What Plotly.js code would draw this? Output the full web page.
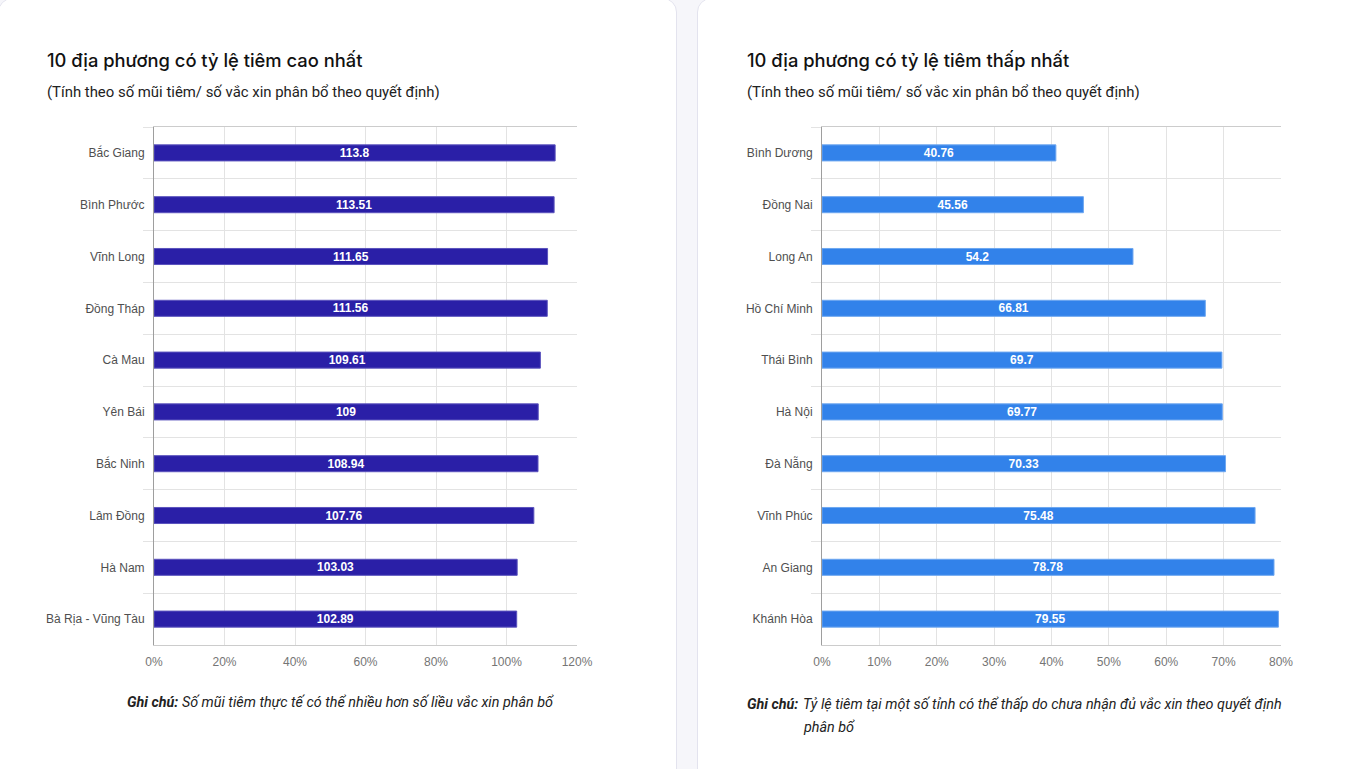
<!DOCTYPE html>
<html>
<head>
<meta charset="utf-8">
<script src="https://cdn.plot.ly/plotly-3.0.1.min.js"></script>
<style>
  html, body { margin: 0; padding: 0; }
  body { width: 1354px; height: 769px; background: #f6f6fa; position: relative; overflow: hidden; }
  .card { position: absolute; top: -2px; height: 800px; background: #ffffff; border: 1px solid #e3e3ee; border-radius: 14px; box-sizing: border-box; }
  #card1 { left: -2px; width: 679px; }
  #card2 { left: 697px; width: 680px; }
  #chart { position: absolute; left: 0; top: 0; width: 1354px; height: 769px; }
</style>
</head>
<body>
<div class="card" id="card1"></div>
<div class="card" id="card2"></div>
<div id="chart"></div>
<script>
const leftTitle = "10 địa phương có tỷ lệ tiêm cao nhất";
const rightTitle = "10 địa phương có tỷ lệ tiêm thấp nhất";
const subtitle = "(Tính theo số mũi tiêm/ số vắc xin phân bổ theo quyết định)";
const leftNoteLabel = "Ghi chú:";
const leftNote = "Số mũi tiêm thực tế có thể nhiều hơn số liều vắc xin phân bổ";
const rightNoteLabel = "Ghi chú:";
const rightNoteLine1 = "Tỷ lệ tiêm tại một số tỉnh có thể thấp do chưa nhận đủ vắc xin theo quyết định";
const rightNoteLine2 = "phân bổ";

const leftCategories = ["Bắc Giang", "Bình Phước", "Vĩnh Long", "Đồng Tháp", "Cà Mau", "Yên Bái", "Bắc Ninh", "Lâm Đồng", "Hà Nam", "Bà Rịa - Vũng Tàu"];
const leftValues = [113.8, 113.51, 111.65, 111.56, 109.61, 109, 108.94, 107.76, 103.03, 102.89];
const leftTickVals = [0, 20, 40, 60, 80, 100, 120];
const leftTickText = ["0%", "20%", "40%", "60%", "80%", "100%", "120%"];

const rightCategories = ["Bình Dương", "Đồng Nai", "Long An", "Hồ Chí Minh", "Thái Bình", "Hà Nội", "Đà Nẵng", "Vĩnh Phúc", "An Giang", "Khánh Hòa"];
const rightValues = [40.76, 45.56, 54.2, 66.81, 69.7, 69.77, 70.33, 75.48, 78.78, 79.55];
const rightTickVals = [0, 10, 20, 30, 40, 50, 60, 70, 80];
const rightTickText = ["0%", "10%", "20%", "30%", "40%", "50%", "60%", "70%", "80%"];

const W = 1354, H = 769;
const px = v => v / W;
const py = v => 1 - v / H;

const barFont = { family: "Arial, 'Liberation Sans', sans-serif", size: 12, color: "#ffffff", weight: "bold" };

const traces = [
  {
    type: "bar", orientation: "h",
    x: leftValues, y: leftCategories,
    xaxis: "x", yaxis: "y",
    width: 0.31,
    marker: { color: "#2a1fa7", line: { color: "#5b53bd", width: 1 } },
    text: leftValues.map(String),
    textposition: "inside", insidetextanchor: "middle", constraintext: "none",
    textfont: barFont,
    hoverinfo: "none"
  },
  {
    type: "bar", orientation: "h",
    x: rightValues, y: rightCategories,
    xaxis: "x2", yaxis: "y2",
    width: 0.31,
    marker: { color: "#3282ea", line: { color: "#6ea7f0", width: 1 } },
    text: rightValues.map(String),
    textposition: "inside", insidetextanchor: "middle", constraintext: "none",
    textfont: barFont,
    hoverinfo: "none"
  }
];

const tickFontX = { family: "Arial, 'Liberation Sans', sans-serif", size: 12, color: "#757575" };
const tickFontY = { family: "Arial, 'Liberation Sans', sans-serif", size: 12, color: "#4f4f4f" };

function xAxis(domain, range, vals, text, anchor) {
  return {
    domain: domain, range: range, anchor: anchor,
    tickmode: "array", tickvals: vals, ticktext: text,
    showgrid: true, gridcolor: "#e3e3e3", gridwidth: 1,
    zeroline: false,
    showline: true, linecolor: "#cccccc", linewidth: 1, mirror: true,
    ticks: "", ticklabelstandoff: 6, tickfont: tickFontX, fixedrange: true
  };
}
function yAxis(domain, cats, anchor) {
  return {
    domain: domain, anchor: anchor,
    type: "category", categoryorder: "array", categoryarray: cats,
    autorange: "reversed",
    tickson: "boundaries", ticks: "outside", ticklen: 10, tickcolor: "#e3e3e3", tickwidth: 1,
    ticklabelstandoff: 6,
    showgrid: true, gridcolor: "#e3e3e3", gridwidth: 1,
    showline: true, linecolor: "#9e9e9e", linewidth: 1,
    zeroline: false,
    tickfont: tickFontY, fixedrange: true
  };
}

const plotY = [py(645), py(127)];

const titleFont = { family: "Inter, Roboto, sans-serif", size: 18.35, color: "#111111", weight: 500 };
const subFont = { family: "Roboto, sans-serif", size: 14.9, color: "#222222" };
const noteFont = { family: "Roboto, sans-serif", size: 14.35, color: "#222222" };

function ann(text, x, y, font) {
  return { text: text, x: px(x), y: py(y), xref: "paper", yref: "paper", xanchor: "left", yanchor: "middle", showarrow: false, font: font, align: "left" };
}

const layout = {
  width: W, height: H, autosize: false,
  margin: { l: 0, r: 0, t: 0, b: 0, pad: 0 },
  paper_bgcolor: "rgba(0,0,0,0)", plot_bgcolor: "rgba(0,0,0,0)",
  showlegend: false,
  bargap: 0.69,
  xaxis: xAxis([px(154), px(577)], [0, 120], leftTickVals, leftTickText, "y"),
  yaxis: yAxis(plotY, leftCategories, "x"),
  xaxis2: xAxis([px(822), px(1281)], [0, 80], rightTickVals, rightTickText, "y2"),
  yaxis2: yAxis(plotY, rightCategories, "x2"),
  annotations: [
    ann(leftTitle, 45, 60, titleFont),
    ann(subtitle, 45, 92, subFont),
    ann(rightTitle, 745, 60, titleFont),
    ann(subtitle, 745, 92, subFont),
    ann("<b><i>" + leftNoteLabel + "</i></b> <i>" + leftNote + "</i>", 125, 702, noteFont),
    ann("<b><i>" + rightNoteLabel + "</i></b>", 745, 704, noteFont),
    ann("<i>" + rightNoteLine1 + "</i>", 801, 704, noteFont),
    ann("<i>" + rightNoteLine2 + "</i>", 801, 727, noteFont)
  ]
};

Plotly.newPlot("chart", traces, layout, { staticPlot: true, displayModeBar: false });
</script>
</body>
</html>
